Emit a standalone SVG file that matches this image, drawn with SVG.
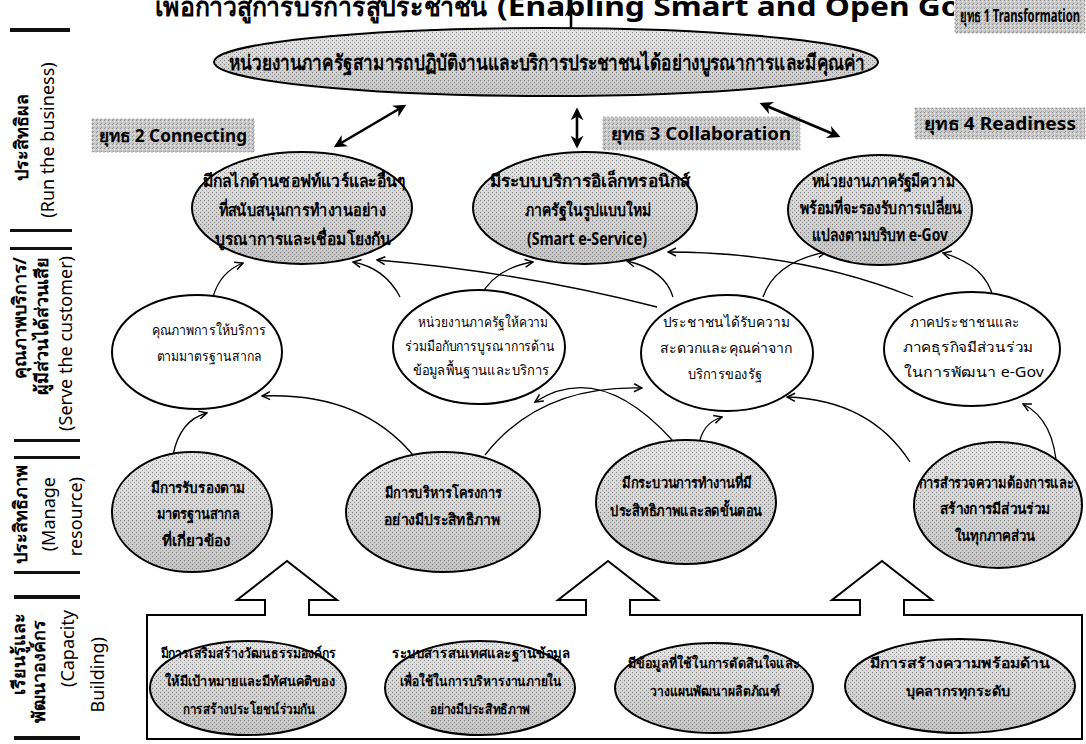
<svg xmlns="http://www.w3.org/2000/svg" width="1086" height="744" viewBox="0 0 1086 744">
<defs>
<pattern id="dots" width="4" height="4" patternUnits="userSpaceOnUse"><rect width="4" height="4" fill="#e4e4e4"/><rect x="0" y="0" width="1" height="1" fill="#8a8a8a"/><rect x="2" y="2" width="1" height="1" fill="#a8a8a8"/></pattern>
<pattern id="hatch" width="4" height="4" patternUnits="userSpaceOnUse"><rect width="4" height="4" fill="#c9c9c9"/><rect x="0" y="0" width="1" height="1" fill="#8f8f8f"/><rect x="2" y="1" width="1" height="1" fill="#eeeeee"/><rect x="1" y="3" width="1" height="1" fill="#9a9a9a"/></pattern>
<linearGradient id="shade" x1="0" y1="0" x2="0" y2="1"><stop offset="0" stop-color="#000" stop-opacity="0"/><stop offset="1" stop-color="#000" stop-opacity="0.14"/></linearGradient>
<clipPath id="titleclip"><rect x="0" y="0" width="954" height="40"/></clipPath>
<marker id="ah" viewBox="0 0 10 10" refX="9" refY="5" markerWidth="10" markerHeight="10" markerUnits="userSpaceOnUse" orient="auto"><path d="M1,1 L9,5 L1,9" fill="none" stroke="#000" stroke-width="1.5"/></marker>
<marker id="bh" viewBox="0 0 10 10" refX="8" refY="5" markerWidth="13" markerHeight="13" markerUnits="userSpaceOnUse" orient="auto-start-reverse"><path d="M0,0 L10,5 L0,10 L3,5 Z" fill="#000"/></marker>
</defs>
<style>
.th{font-family:"Noto Sans","DejaVu Sans",sans-serif;fill:#000}
.b{font-weight:bold}
.en{font-family:"Noto Sans","Open Sans",sans-serif;fill:#000}
.ge{fill:url(#dots);stroke:#000;stroke-width:2}
.we{fill:#fff;stroke:#000;stroke-width:2}
.sh{fill:url(#shade);stroke:none}
.tb{fill:url(#hatch);stroke:#999;stroke-width:0.8;stroke-dasharray:2 2}
.bar{fill:#111}
.c{fill:none;stroke:#000;stroke-width:1.3;marker-end:url(#ah)}
.ba{fill:none;stroke:#000;stroke-width:2.6;marker-start:url(#bh);marker-end:url(#bh)}
.blk{fill:#fff;stroke:#000;stroke-width:2}
</style>
<rect width="1086" height="744" fill="#fff"/>

<!-- title (cut at top) -->
<g id="title" clip-path="url(#titleclip)">
<text class="th b" x="155" y="16" font-size="27" textLength="332" lengthAdjust="spacingAndGlyphs">เพื่อก้าวสู่การบริการสู่ประชาชน</text>
<text class="en b" x="497" y="16" font-size="27" textLength="630" lengthAdjust="spacingAndGlyphs">(Enabling Smart and Open Government)</text>
</g>

<!-- left labels -->
<g id="labels">
<rect class="bar" x="10" y="28" width="60" height="4"/>
<text class="th b" font-size="18" text-anchor="middle" transform="translate(28,137) rotate(-90)">ประสิทธิผล</text>
<text class="en" font-size="18" text-anchor="middle" transform="translate(54,140) rotate(-90)">(Run  the business)</text>
<rect class="bar" x="10" y="229" width="62" height="3"/>
<rect class="bar" x="10" y="247" width="62" height="3"/>
<text class="th b" font-size="18" text-anchor="end" transform="translate(26,257) rotate(-90)">คุณภาพบริการ/</text>
<text class="th b" font-size="18" text-anchor="end" transform="translate(48,257) rotate(-90)">ผู้มีส่วนได้ส่วนเสีย</text>
<text class="en" font-size="18" text-anchor="end" transform="translate(72,256) rotate(-90)">(Serve the customer)</text>
<rect class="bar" x="14" y="439" width="66" height="3"/>
<rect class="bar" x="14" y="456" width="66" height="3"/>
<text class="th b" font-size="18" text-anchor="middle" transform="translate(27,514) rotate(-90)">ประสิทธิภาพ</text>
<text class="en" font-size="18" text-anchor="end" transform="translate(55,477) rotate(-90)">(Manage</text>
<text class="en" font-size="18" text-anchor="end" transform="translate(82,477) rotate(-90)">resource)</text>
<rect class="bar" x="14" y="571" width="66" height="3"/>
<rect class="bar" x="14" y="595" width="66" height="4"/>
<text class="th b" font-size="18" text-anchor="end" transform="translate(25,613) rotate(-90)">เรียนรู้และ</text>
<text class="th b" font-size="18" text-anchor="end" transform="translate(45,620) rotate(-90)">พัฒนาองค์กร</text>
<text class="en" font-size="18" text-anchor="end" transform="translate(74,610) rotate(-90)">(Capacity</text>
<text class="en" font-size="18" text-anchor="end" transform="translate(104,637) rotate(-90)">Building)</text>
<rect class="bar" x="14" y="736" width="66" height="4"/>
</g>

<!-- strategy boxes -->
<g id="t1"><rect class="tb" x="955" y="-2" width="130" height="35"/><text class="th b" x="1020" y="22" font-size="17" text-anchor="middle" textLength="120" lengthAdjust="spacingAndGlyphs">ยุทธ 1 Transformation</text></g>
<g id="t2"><rect class="tb" x="92" y="119" width="162" height="33"/><text class="th b" x="173" y="142" font-size="17" text-anchor="middle" textLength="148" lengthAdjust="spacingAndGlyphs">ยุทธ 2 Connecting</text></g>
<g id="t3"><rect class="tb" x="603" y="117" width="197" height="33"/><text class="th b" x="701" y="140" font-size="17" text-anchor="middle" textLength="180" lengthAdjust="spacingAndGlyphs">ยุทธ 3 Collaboration</text></g>
<g id="t4"><rect class="tb" x="915" y="108" width="170" height="31"/><text class="th b" x="1000" y="130" font-size="17" text-anchor="middle" textLength="152" lengthAdjust="spacingAndGlyphs">ยุทธ 4 Readiness</text></g>

<!-- connectors -->
<g id="connectors">
<path class="ba" d="M571,6 L571,44"/>
<path class="ba" d="M336,146 L404,106"/>
<path class="ba" d="M577,110 L577,146"/>
<path class="ba" d="M762,104 L838,136"/>
<path class="c" d="M213,297 Q220,272 243,263"/>
<path class="c" d="M400,297 Q385,268 353,262"/>
<path class="c" d="M657,307 Q520,272 377,260"/>
<path class="c" d="M480,297 Q495,268 533,262"/>
<path class="c" d="M673,297 Q665,270 627,261"/>
<path class="c" d="M763,297 Q775,262 826,252"/>
<path class="c" d="M993,297 Q985,265 943,253"/>
<path class="c" d="M913,297 Q800,252 668,252"/>
<path class="c" d="M173,455 Q180,420 207,413"/>
<path class="c" d="M413,455 Q360,392 262,396"/>
<path class="c" d="M485,455 Q540,385 642,388"/>
<path class="c" d="M673,441 Q600,360 535,402"/>
<path class="c" d="M700,440 Q705,422 722,417"/>
<path class="c" d="M910,462 Q870,400 787,397"/>
<path class="c" d="M1057,472 Q1055,420 1023,404"/>
</g>

<!-- top goal -->
<g id="goal">
<ellipse class="ge" cx="546" cy="62" rx="332" ry="34"/><ellipse class="sh" cx="546" cy="62" rx="331" ry="33"/>
<text class="th b" x="547" y="70" font-size="21" text-anchor="middle" textLength="636" lengthAdjust="spacingAndGlyphs">หน่วยงานภาครัฐสามารถปฏิบัติงานและบริการประชาชนได้อย่างบูรณาการและมีคุณค่า</text>
</g>

<!-- run the business -->
<g id="e2a"><ellipse class="ge" cx="302" cy="208" rx="110" ry="56"/><ellipse class="sh" cx="302" cy="208" rx="109" ry="55"/>
<text class="th b" font-size="17" text-anchor="middle"><tspan x="304" y="187" textLength="203" lengthAdjust="spacingAndGlyphs">มีกลไกด้านซอฟท์แวร์และอื่นๆ</tspan><tspan x="302" y="216" textLength="167" lengthAdjust="spacingAndGlyphs">ที่สนับสนุนการทำงานอย่าง</tspan><tspan x="303" y="245" textLength="177" lengthAdjust="spacingAndGlyphs">บูรณาการและเชื่อมโยงกัน</tspan></text></g>
<g id="e2b"><ellipse class="ge" cx="585" cy="208" rx="112" ry="56"/><ellipse class="sh" cx="585" cy="208" rx="111" ry="55"/>
<text class="th b" font-size="17" text-anchor="middle"><tspan x="590" y="187" textLength="200" lengthAdjust="spacingAndGlyphs">มีระบบบริการอิเล็กทรอนิกส์</tspan><tspan x="588" y="216" textLength="126" lengthAdjust="spacingAndGlyphs">ภาครัฐในรูปแบบใหม่</tspan><tspan x="587" y="245" textLength="120" lengthAdjust="spacingAndGlyphs">(Smart  e-Service)</tspan></text></g>
<g id="e2c"><ellipse class="ge" cx="880" cy="210" rx="92" ry="55"/><ellipse class="sh" cx="880" cy="210" rx="91" ry="54"/>
<text class="th b" font-size="17" text-anchor="middle"><tspan x="883" y="187" textLength="143" lengthAdjust="spacingAndGlyphs">หน่วยงานภาครัฐมีความ</tspan><tspan x="881" y="214" textLength="162" lengthAdjust="spacingAndGlyphs">พร้อมที่จะรองรับการเปลี่ยน</tspan><tspan x="880" y="241" textLength="136" lengthAdjust="spacingAndGlyphs">แปลงตามบริบท e-Gov</tspan></text></g>

<!-- serve the customer -->
<g id="e3a"><ellipse class="we" cx="197" cy="352" rx="85" ry="57"/>
<text class="th" font-size="14" text-anchor="middle"><tspan x="209" y="335" textLength="114" lengthAdjust="spacingAndGlyphs">คุณภาพการให้บริการ</tspan><tspan x="209" y="361" textLength="105" lengthAdjust="spacingAndGlyphs">ตามมาตรฐานสากล</tspan></text></g>
<g id="e3b"><ellipse class="we" cx="479" cy="347" rx="86" ry="57"/>
<text class="th" font-size="14" text-anchor="middle"><tspan x="483" y="327" textLength="130" lengthAdjust="spacingAndGlyphs">หน่วยงานภาครัฐให้ความ</tspan><tspan x="480" y="351" textLength="150" lengthAdjust="spacingAndGlyphs">ร่วมมือกับการบูรณาการด้าน</tspan><tspan x="481" y="375" textLength="137" lengthAdjust="spacingAndGlyphs">ข้อมูลพื้นฐานและบริการ</tspan></text></g>
<g id="e3c"><ellipse class="we" cx="727" cy="353" rx="86" ry="58"/>
<text class="th" font-size="14" text-anchor="middle"><tspan x="726" y="327" textLength="127" lengthAdjust="spacingAndGlyphs">ประชาชนได้รับความ</tspan><tspan x="726" y="353" textLength="132" lengthAdjust="spacingAndGlyphs">สะดวกและคุณค่าจาก</tspan><tspan x="725" y="379" textLength="75" lengthAdjust="spacingAndGlyphs">บริการของรัฐ</tspan></text></g>
<g id="e3d"><ellipse class="we" cx="972" cy="349" rx="88" ry="57"/>
<text class="th" font-size="14" text-anchor="middle"><tspan x="965" y="327" textLength="110" lengthAdjust="spacingAndGlyphs">ภาคประชาชนและ</tspan><tspan x="968" y="352" textLength="130" lengthAdjust="spacingAndGlyphs">ภาคธุรกิจมีส่วนร่วม</tspan><tspan x="974" y="377" textLength="140" lengthAdjust="spacingAndGlyphs">ในการพัฒนา e-Gov</tspan></text></g>

<!-- manage resource -->
<g id="e4a"><ellipse class="ge" cx="192" cy="512" rx="80" ry="60"/><ellipse class="sh" cx="192" cy="512" rx="79" ry="59"/>
<text class="th b" font-size="15" text-anchor="middle"><tspan x="198" y="493" textLength="95" lengthAdjust="spacingAndGlyphs">มีการรับรองตาม</tspan><tspan x="198" y="519" textLength="83" lengthAdjust="spacingAndGlyphs">มาตรฐานสากล</tspan><tspan x="196" y="546" textLength="68" lengthAdjust="spacingAndGlyphs">ที่เกี่ยวข้อง</tspan></text></g>
<g id="e4b"><ellipse class="ge" cx="443" cy="512" rx="97" ry="60"/><ellipse class="sh" cx="443" cy="512" rx="96" ry="59"/>
<text class="th b" font-size="15" text-anchor="middle"><tspan x="443" y="498" textLength="117" lengthAdjust="spacingAndGlyphs">มีการบริหารโครงการ</tspan><tspan x="442" y="525" textLength="116" lengthAdjust="spacingAndGlyphs">อย่างมีประสิทธิภาพ</tspan></text></g>
<g id="e4c"><ellipse class="ge" cx="686" cy="502" rx="90" ry="62"/><ellipse class="sh" cx="686" cy="502" rx="89" ry="61"/>
<text class="th b" font-size="15" text-anchor="middle"><tspan x="687" y="488" textLength="130" lengthAdjust="spacingAndGlyphs">มีกระบวนการทำงานที่มี</tspan><tspan x="686" y="516" textLength="152" lengthAdjust="spacingAndGlyphs">ประสิทธิภาพและลดขั้นตอน</tspan></text></g>
<g id="e4d"><ellipse class="ge" cx="998" cy="505" rx="84" ry="63"/><ellipse class="sh" cx="998" cy="505" rx="83" ry="62"/>
<text class="th b" font-size="15" text-anchor="middle"><tspan x="996" y="488" textLength="155" lengthAdjust="spacingAndGlyphs">การสำรวจความต้องการและ</tspan><tspan x="995" y="514" textLength="110" lengthAdjust="spacingAndGlyphs">สร้างการมีส่วนร่วม</tspan><tspan x="995" y="541" textLength="80" lengthAdjust="spacingAndGlyphs">ในทุกภาคส่วน</tspan></text></g>

<!-- capacity building box and block arrows -->
<g id="capacity">
<rect x="147" y="615" width="935" height="124" fill="none" stroke="#000" stroke-width="2"/>
<path class="blk" d="M265,615 V600 H237 L287,561 L337,600 H309 V615"/><rect x="266" y="613" width="42" height="4" fill="#fff"/>
<path class="blk" d="M586,615 V600 H558 L608,561 L658,600 H630 V615"/><rect x="587" y="613" width="42" height="4" fill="#fff"/>
<path class="blk" d="M860,615 V600 H832 L882,561 L932,600 H904 V615"/><rect x="861" y="613" width="42" height="4" fill="#fff"/>
</g>
<g id="b1"><ellipse class="ge" cx="248" cy="688" rx="98" ry="47"/><ellipse class="sh" cx="248" cy="688" rx="97" ry="46"/>
<text class="th b" font-size="14" text-anchor="middle"><tspan x="248" y="658" textLength="175" lengthAdjust="spacingAndGlyphs">มีการเสริมสร้างวัฒนธรรมองค์กร</tspan><tspan x="250" y="686" textLength="170" lengthAdjust="spacingAndGlyphs">ให้มีเป้าหมายและมีทัศนคติของ</tspan><tspan x="249" y="714" textLength="132" lengthAdjust="spacingAndGlyphs">การสร้างประโยชน์ร่วมกัน</tspan></text></g>
<g id="b2"><ellipse class="ge" cx="480" cy="688" rx="95" ry="47"/><ellipse class="sh" cx="480" cy="688" rx="94" ry="46"/>
<text class="th b" font-size="14" text-anchor="middle"><tspan x="481" y="658" textLength="178" lengthAdjust="spacingAndGlyphs">ระบบสารสนเทศและฐานข้อมูล</tspan><tspan x="481" y="686" textLength="162" lengthAdjust="spacingAndGlyphs">เพื่อใช้ในการบริหารงานภายใน</tspan><tspan x="480" y="714" textLength="100" lengthAdjust="spacingAndGlyphs">อย่างมีประสิทธิภาพ</tspan></text></g>
<g id="b3"><ellipse class="ge" cx="714" cy="688" rx="99" ry="45"/><ellipse class="sh" cx="714" cy="688" rx="98" ry="44"/>
<text class="th b" font-size="14" text-anchor="middle"><tspan x="714" y="668" textLength="172" lengthAdjust="spacingAndGlyphs">มีข้อมูลที่ใช้ในการตัดสินใจและ</tspan><tspan x="715" y="696" textLength="130" lengthAdjust="spacingAndGlyphs">วางแผนพัฒนาผลิตภัณฑ์</tspan></text></g>
<g id="b4"><ellipse class="ge" cx="960" cy="686" rx="115" ry="47"/><ellipse class="sh" cx="960" cy="686" rx="114" ry="46"/>
<text class="th b" font-size="14" text-anchor="middle"><tspan x="960" y="668" textLength="180" lengthAdjust="spacingAndGlyphs">มีการสร้างความพร้อมด้าน</tspan><tspan x="958" y="696" textLength="105" lengthAdjust="spacingAndGlyphs">บุคลากรทุกระดับ</tspan></text></g>
</svg>
